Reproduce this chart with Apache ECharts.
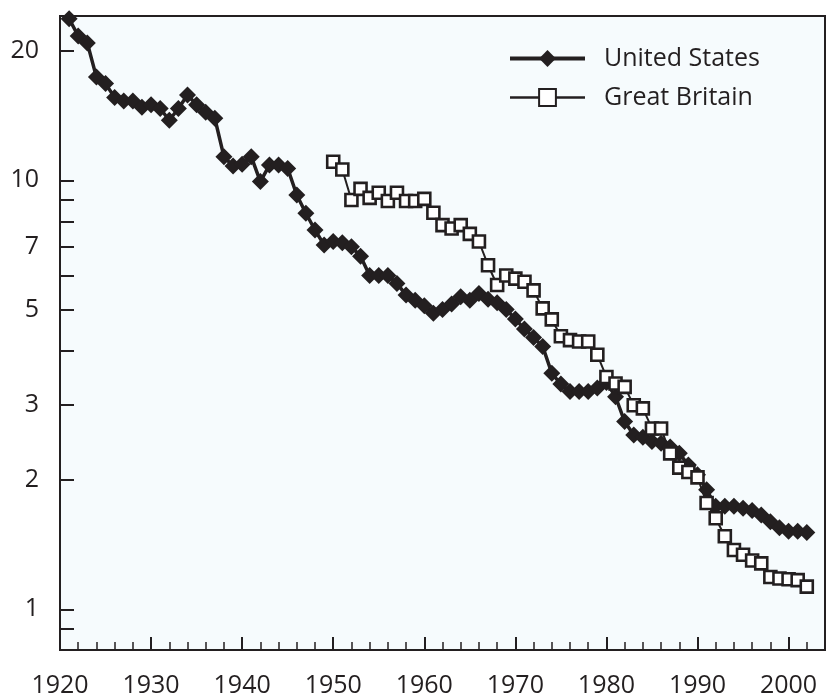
<!DOCTYPE html>
<html>
<head>
<meta charset="utf-8">
<script src="https://cdn.jsdelivr.net/npm/echarts@6/dist/echarts.min.js"></script>
<style>
html,body{margin:0;padding:0;background:#ffffff;}
#chart{width:828px;height:700px;}
</style>
</head>
<body>
<div id="chart"></div>
<script>
var usYears = [];
for (var y = 1921; y <= 2002; y++) usYears.push(y);
var usValues = [
  23.8, 21.7, 20.9, 17.4, 16.8, 15.6, 15.3, 15.3, 14.8, 15.0,
  14.7, 13.8, 14.7, 15.8, 15.0, 14.4, 13.95, 11.35, 10.8, 10.9,
  11.35, 9.93, 10.85, 10.85, 10.66, 9.24, 8.38, 7.66, 7.07, 7.2,
  7.15, 7.0, 6.65, 6.0, 6.0, 6.0, 5.75, 5.4, 5.25, 5.1,
  4.9, 5.0, 5.15, 5.35, 5.25, 5.45, 5.28, 5.18, 5.0, 4.75,
  4.5, 4.3, 4.1, 3.55, 3.35, 3.22, 3.22, 3.22, 3.28, 3.38,
  3.13, 2.74, 2.55, 2.52, 2.46, 2.44, 2.39, 2.31, 2.17, 2.06,
  1.9, 1.74, 1.74, 1.74, 1.72, 1.70, 1.66, 1.60, 1.55, 1.52,
  1.52, 1.51
];
var gbYears = [];
for (var y2 = 1950; y2 <= 2002; y2++) gbYears.push(y2);
var gbValues = [
  11.05, 10.6, 9.0, 9.55, 9.1, 9.35, 8.95, 9.35, 8.95, 8.95,
  9.05, 8.4, 7.86, 7.72, 7.86, 7.5, 7.2, 6.34, 5.7, 6.0,
  5.9, 5.8, 5.54, 5.03, 4.74, 4.33, 4.24, 4.21, 4.21, 3.92,
  3.48, 3.36, 3.3, 2.99, 2.94, 2.64, 2.64, 2.31, 2.14, 2.09,
  2.03, 1.77, 1.63, 1.48, 1.375, 1.34, 1.30, 1.28, 1.19, 1.18,
  1.175, 1.17, 1.13
];
var yLabelValues = [1, 2, 3, 5, 7, 10, 20];
var yTickValues = [0.9, 1, 2, 3, 4, 5, 6, 7, 8, 9, 10, 20];
var seriesNames = ['United States', 'Great Britain'];

function pairs(xs, vs) { return xs.map(function (x, i) { return [x, vs[i]]; }); }

var ink = '#231F20';
var font = 'Open Sans';
var chart = echarts.init(document.getElementById('chart'), null, {renderer: 'canvas'});
chart.setOption({
  animation: false,
  backgroundColor: '#ffffff',
  textStyle: {fontFamily: font, color: ink},
  grid: {
    left: 60, top: 16, bottom: 50, right: -4,
    show: true, backgroundColor: '#F6FBFD', borderColor: ink, borderWidth: 2
  },
  legend: {
    orient: 'vertical', left: 503, top: 41, itemWidth: 75, itemHeight: 21, itemGap: 14,
    data: [
      {name: seriesNames[0], lineStyle: {width: 4, color: ink}},
      {name: seriesNames[1], lineStyle: {width: 2.5, color: ink}}
    ],
    textStyle: {fontFamily: font, fontSize: 25, color: ink, padding: [0, 0, 0, 14]}
  },
  xAxis: [{
    type: 'value', min: 1920, max: 2004, interval: 10,
    axisLine: {show: true, lineStyle: {color: ink, width: 2}},
    axisTick: {show: true, inside: true, length: 13, lineStyle: {color: ink, width: 2}},
    axisLabel: {show: true, fontFamily: font, fontSize: 25, color: ink, margin: 23,
      formatter: function (v) { return (v % 10 === 0) ? String(v) : ''; }},
    splitLine: {show: false}
  }, {
    type: 'value', min: 1920, max: 2004, interval: 2, position: 'bottom',
    axisLine: {show: false},
    axisTick: {show: true, inside: true, length: 8, lineStyle: {color: ink, width: 1.5}},
    axisLabel: {show: false},
    splitLine: {show: false}
  }],
  yAxis: {
    type: 'log', logBase: 10, min: 0.804, max: 24.15,
    axisLine: {show: true, lineStyle: {color: ink, width: 2}},
    axisTick: {show: true, inside: true, length: 14, customValues: yTickValues, lineStyle: {color: ink, width: 2}},
    axisLabel: {show: true, customValues: yLabelValues, fontFamily: font, fontSize: 25, color: ink, margin: 21},
    splitLine: {show: false},
    minorTick: {show: false}
  },
  series: [{
    name: seriesNames[0], type: 'line', xAxisIndex: 0,
    data: pairs(usYears, usValues),
    symbol: 'diamond', symbolSize: 17,
    itemStyle: {color: ink},
    lineStyle: {color: ink, width: 3.5},
    z: 2
  }, {
    name: seriesNames[1], type: 'line', xAxisIndex: 0,
    data: pairs(gbYears, gbValues),
    symbol: 'rect', symbolSize: 12,
    itemStyle: {color: '#ffffff', borderColor: ink, borderWidth: 2.6},
    lineStyle: {color: ink, width: 2},
    z: 3
  }]
});
</script>
</body>
</html>
